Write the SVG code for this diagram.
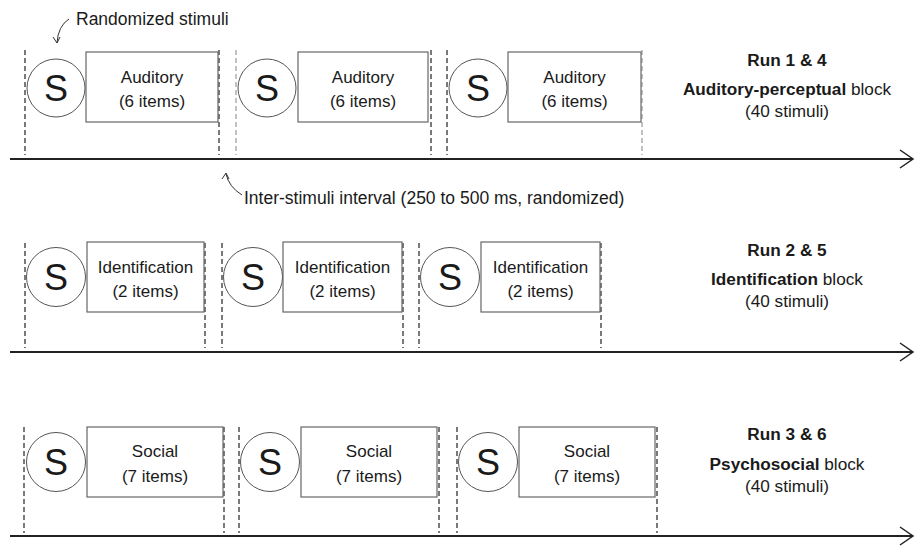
<svg xmlns="http://www.w3.org/2000/svg" width="915" height="548" viewBox="0 0 915 548">
<style>
text{font-family:"Liberation Sans",Arial,sans-serif;fill:#1a1a1a}
.s{font-size:36px;text-anchor:middle}
.b{font-size:17px;text-anchor:middle}
.r{font-size:17.2px;text-anchor:middle}
.bold{font-weight:bold}
.note{font-size:17.5px}
circle{fill:#fff;stroke:#555;stroke-width:1}
rect{fill:#fff;stroke:#666;stroke-width:1.2}
.d{stroke:#222;stroke-width:1.2;stroke-dasharray:5,3;fill:none}
.dl{stroke:#999;stroke-width:1.2;stroke-dasharray:5,3;fill:none}
.axis{stroke:#222;stroke-width:2;fill:none}
.head{stroke:#222;stroke-width:1.5;fill:none}
.thin{stroke:#333;stroke-width:1;fill:none}
</style>
<g id="connectors">
<line class="axis" x1="10" y1="159" x2="913" y2="159"/>
<polyline class="head" points="900,150 913,159 900,168"/>
<line class="axis" x1="10" y1="352" x2="913" y2="352"/>
<polyline class="head" points="900,343 913,352 900,361"/>
<line class="axis" x1="10" y1="536" x2="913" y2="536"/>
<polyline class="head" points="900,527 913,536 900,545"/>
<line class="d" x1="25" y1="50" x2="25" y2="155"/>
<line class="d" x1="219" y1="50" x2="219" y2="155"/>
<line class="dl" x1="236" y1="50" x2="236" y2="155"/>
<line class="d" x1="431" y1="50" x2="431" y2="155"/>
<line class="d" x1="447" y1="50" x2="447" y2="155"/>
<line class="dl" x1="642" y1="50" x2="642" y2="155"/>
<line class="d" x1="25" y1="243" x2="25" y2="348"/>
<line class="d" x1="205" y1="243" x2="205" y2="348"/>
<line class="d" x1="222" y1="243" x2="222" y2="348"/>
<line class="d" x1="403" y1="243" x2="403" y2="348"/>
<line class="d" x1="419" y1="243" x2="419" y2="348"/>
<line class="d" x1="601" y1="243" x2="601" y2="348"/>
<line class="d" x1="24" y1="427" x2="24" y2="533"/>
<line class="d" x1="224" y1="427" x2="224" y2="533"/>
<line class="d" x1="239" y1="427" x2="239" y2="533"/>
<line class="d" x1="439" y1="427" x2="439" y2="533"/>
<line class="d" x1="457" y1="427" x2="457" y2="533"/>
<line class="d" x1="657" y1="427" x2="657" y2="533"/>
<path class="thin" d="M69,19 Q58,26 57,43"/>
<polyline class="thin" points="53,37 57,43 60,37"/>
<path class="thin" d="M242,195 Q229,187 226,174"/>
<polyline class="thin" points="222,179 226,173 229,179"/>
</g>
<g id="row1">
<g id="r1s1"><circle cx="56" cy="88" r="29"/><text class="s" x="56" y="101">S</text></g>
<g id="r1b1"><rect x="86" y="52" width="132" height="70"/><text class="b" x="152" y="83">Auditory</text><text class="b" x="152" y="107">(6 items)</text></g>
<g id="r1s2"><circle cx="267" cy="88" r="29"/><text class="s" x="267" y="101">S</text></g>
<g id="r1b2"><rect x="298" y="52" width="130" height="70"/><text class="b" x="363" y="83">Auditory</text><text class="b" x="363" y="107">(6 items)</text></g>
<g id="r1s3"><circle cx="478" cy="88" r="29"/><text class="s" x="478" y="101">S</text></g>
<g id="r1b3"><rect x="508" y="52" width="133" height="70"/><text class="b" x="574.5" y="83">Auditory</text><text class="b" x="574.5" y="107">(6 items)</text></g>
<g id="r1label"><text class="r bold" x="787" y="66">Run 1 &amp; 4</text><text class="r" x="787" y="95"><tspan class="bold">Auditory-perceptual</tspan> block</text><text class="r" x="787" y="117">(40 stimuli)</text></g>
</g>
<g id="row2">
<g id="r2s1"><circle cx="56" cy="277" r="29.5"/><text class="s" x="56" y="290">S</text></g>
<g id="r2b1"><rect x="87" y="242" width="117" height="70"/><text class="b" x="145.5" y="273">Identification</text><text class="b" x="145.5" y="297">(2 items)</text></g>
<g id="r2s2"><circle cx="253" cy="277" r="29.5"/><text class="s" x="253" y="290">S</text></g>
<g id="r2b2"><rect x="283" y="242" width="119" height="70"/><text class="b" x="342.5" y="273">Identification</text><text class="b" x="342.5" y="297">(2 items)</text></g>
<g id="r2s3"><circle cx="450" cy="277" r="29.5"/><text class="s" x="450" y="290">S</text></g>
<g id="r2b3"><rect x="481" y="242" width="119" height="70"/><text class="b" x="540.5" y="273">Identification</text><text class="b" x="540.5" y="297">(2 items)</text></g>
<g id="r2label"><text class="r bold" x="787" y="256">Run 2 &amp; 5</text><text class="r" x="787" y="285"><tspan class="bold">Identification</tspan> block</text><text class="r" x="787" y="307">(40 stimuli)</text></g>
</g>
<g id="row3">
<g id="r3s1"><circle cx="56" cy="462" r="29.5"/><text class="s" x="56" y="475">S</text></g>
<g id="r3b1"><rect x="87" y="427" width="136" height="70"/><text class="b" x="155" y="457">Social</text><text class="b" x="155" y="482">(7 items)</text></g>
<g id="r3s2"><circle cx="270" cy="462" r="29.5"/><text class="s" x="270" y="475">S</text></g>
<g id="r3b2"><rect x="301" y="427" width="136" height="70"/><text class="b" x="369" y="457">Social</text><text class="b" x="369" y="482">(7 items)</text></g>
<g id="r3s3"><circle cx="488" cy="462" r="29.5"/><text class="s" x="488" y="475">S</text></g>
<g id="r3b3"><rect x="519" y="427" width="136" height="70"/><text class="b" x="587" y="457">Social</text><text class="b" x="587" y="482">(7 items)</text></g>
<g id="r3label"><text class="r bold" x="787" y="440">Run 3 &amp; 6</text><text class="r" x="787" y="470"><tspan class="bold">Psychosocial</tspan> block</text><text class="r" x="787" y="492">(40 stimuli)</text></g>
</g>
<g id="notes">
<text class="note" x="76" y="25">Randomized stimuli</text>
<text class="note" x="244" y="204">Inter-stimuli interval (250 to 500 ms, randomized)</text>
</g>
</svg>
